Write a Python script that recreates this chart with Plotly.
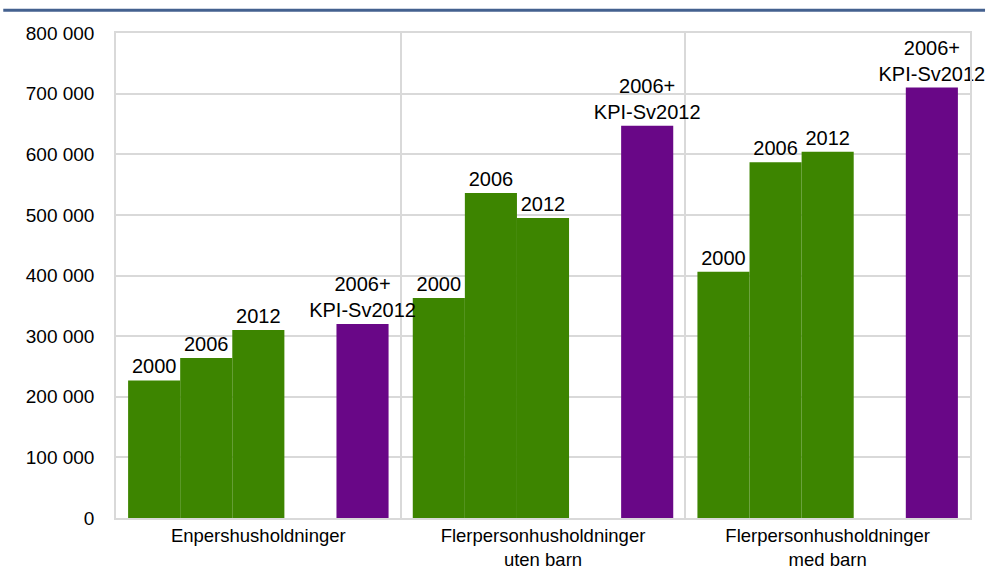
import plotly.graph_objects as go

categories = ["Enpershusholdninger", "Flerpersonhusholdninger<br>uten barn", "Flerpersonhusholdninger<br>med barn"]
series_names = ["2000", "2006", "2012", "", "2006+<br>KPI-Sv2012"]
values_2000 = [227000, 363000, 406000]
values_2006 = [264000, 536000, 587000]
values_2012 = [310000, 495000, 604000]
values_gap = [None, None, None]
values_kpi = [320000, 647000, 710000]
colors = ["#3D8500", "#3D8500", "#3D8500", "#FFFFFF", "#690787"]
y_ticks = [0, 100000, 200000, 300000, 400000, 500000, 600000, 700000, 800000]

series_values = [values_2000, values_2006, values_2012, values_gap, values_kpi]

fig = go.Figure()
for name, vals, col in zip(series_names, series_values, colors):
    fig.add_trace(go.Bar(
        x=categories, y=vals, name=name,
        marker=dict(color=col, line=dict(width=0)),
        text=[name if v is not None else None for v in vals],
        textposition="outside", constraintext="none", cliponaxis=False,
        textfont=dict(family="Liberation Sans, Arial", size=20, color="#000000"),
        showlegend=False, hoverinfo="skip",
    ))

fig.update_layout(
    width=988, height=569,
    margin=dict(l=116, r=18, t=33, b=51, autoexpand=False),
    barmode="group", bargap=0.085, bargroupgap=0,
    plot_bgcolor="#FFFFFF", paper_bgcolor="#FFFFFF",
    separators=". ",
    font=dict(family="Liberation Sans, Arial", size=20, color="#000000"),
)
fig.update_xaxes(
    type="category", tickson="boundaries", showgrid=True, gridcolor="#D9D9D9", gridwidth=1.5,
    showline=True, linecolor="#D9D9D9", linewidth=1.5, mirror=True,
    ticks="", tickfont=dict(size=18.5), ticklabelstandoff=0, automargin=False,
)
fig.update_yaxes(
    range=[0, 800000], tickvals=y_ticks, tickformat=",d",
    showgrid=True, gridcolor="#D9D9D9", gridwidth=1.5,
    showline=True, linecolor="#D9D9D9", linewidth=1.5, mirror=True,
    zeroline=False, ticks="", tickfont=dict(size=19), ticklabelstandoff=16, automargin=False,
)
fig.add_shape(type="line", xref="paper", yref="paper",
              x0=-0.132, x1=1.0176, y0=1.047, y1=1.047,
              line=dict(color="#44618F", width=3))

fig.write_html("out.html", config={"displayModeBar": False},
               post_script="document.body.style.margin='0';document.body.style.overflow='hidden';")
